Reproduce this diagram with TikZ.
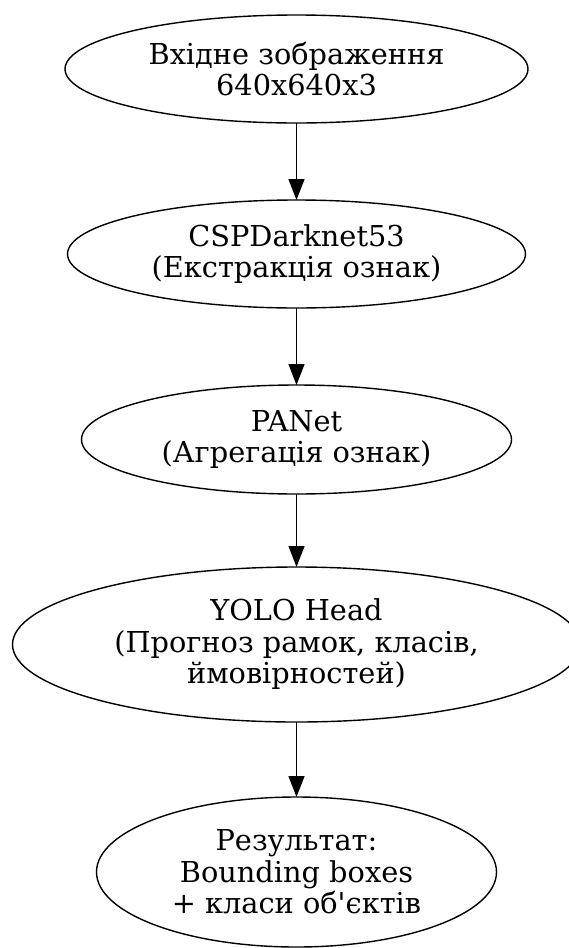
\documentclass[tikz,border=0pt]{standalone}
\usepackage{fontspec}
\usepackage{tikz}
\usetikzlibrary{arrows.meta,shapes.geometric}
\newfontfamily\stagefont{DejaVu Serif}
\tikzset{
  stage/.style={draw,ellipse,line width=1.4pt,inner sep=0pt,outer sep=0pt,align=center,
    font=\stagefont\fontsize{28.8}{31.5}\selectfont},
  ar/.style={-{Triangle[length=21pt,width=16pt]},line width=1.4pt},
}
\begin{document}
\begin{tikzpicture}[x=1pt,y=-1pt]
  \useasboundingbox (0,0) rectangle (569,948);
  \node[stage,minimum width=463pt,minimum height=108pt] (input) at (296.5,69)
    {Вхідне зображення\\640x640x3};
  \node[stage,minimum width=458pt,minimum height=108pt] (backbone) at (296.5,254)
    {CSPDarknet53\\(Екстракція ознак)};
  \node[stage,minimum width=430pt,minimum height=109pt] (neck) at (296.5,439.5)
    {PANet\\(Агрегація ознак)};
  \node[stage,minimum width=568pt,minimum height=155pt] (head) at (296.5,644.5)
    {YOLO Head\\(Прогноз рамок, класів,\\ймовірностей)};
  \node[stage,minimum width=400pt,minimum height=150pt] (result) at (296.5,872)
    {Результат:\\Bounding boxes\\+ класи об\textquotesingle єктів};
  \draw[ar] (input) -- (backbone);
  \draw[ar] (backbone) -- (neck);
  \draw[ar] (neck) -- (head);
  \draw[ar] (head) -- (result);
\end{tikzpicture}
\end{document}
